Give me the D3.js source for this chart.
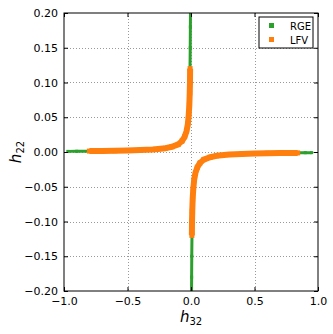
<!DOCTYPE html>
<html>
<head>
<meta charset="utf-8">
<script src="https://cdn.jsdelivr.net/npm/d3@7"></script>
<style>
  body { margin: 0; background: #fff; }
  text { font-family: "DejaVu Sans", sans-serif; }
</style>
</head>
<body>
<svg id="chart" width="333" height="334"></svg>
<script>
// ---- data: [h32, h22] ----
// RGE, branch with h32 < 0
const rgeLeft = [
  [-0.97, 0.0009], [-0.9, 0.001], [-0.8, 0.0012], [-0.7, 0.0014], [-0.6, 0.0016],
  [-0.5, 0.0019], [-0.4, 0.0024], [-0.3, 0.0032], [-0.2, 0.0048], [-0.15, 0.0066],
  [-0.1, 0.0098], [-0.07, 0.014], [-0.05, 0.02], [-0.035, 0.028], [-0.025, 0.038],
  [-0.018, 0.052], [-0.013, 0.07], [-0.01, 0.09], [-0.008, 0.115], [-0.006, 0.15],
  [-0.005, 0.18], [-0.004, 0.2]
];
// RGE, branch with h32 > 0
const rgeRight = [
  [0.004, -0.2], [0.005, -0.18], [0.006, -0.15], [0.008, -0.115], [0.01, -0.09],
  [0.013, -0.07], [0.018, -0.052], [0.025, -0.038], [0.035, -0.028], [0.05, -0.02],
  [0.07, -0.014], [0.1, -0.0098], [0.15, -0.0066], [0.2, -0.0048], [0.3, -0.0032],
  [0.4, -0.0024], [0.5, -0.0019], [0.6, -0.0016], [0.7, -0.0014], [0.8, -0.0012],
  [0.9, -0.001], [0.95, -0.0009]
];
// LFV, branch with h32 < 0
const lfvLeft = [
  [-0.8, 0.0013], [-0.7, 0.0015], [-0.6, 0.0018], [-0.5, 0.0022], [-0.4, 0.0028],
  [-0.3, 0.0037], [-0.2, 0.0055], [-0.15, 0.0075], [-0.1, 0.011], [-0.07, 0.016],
  [-0.05, 0.022], [-0.035, 0.03], [-0.025, 0.04], [-0.018, 0.053], [-0.013, 0.068],
  [-0.01, 0.085], [-0.008, 0.1], [-0.007, 0.12]
];
// LFV, branch with h32 > 0
const lfvRight = [
  [0.007, -0.12], [0.008, -0.1], [0.01, -0.085], [0.013, -0.068], [0.018, -0.053],
  [0.025, -0.04], [0.035, -0.03], [0.05, -0.022], [0.07, -0.016], [0.1, -0.011],
  [0.15, -0.0075], [0.2, -0.0055], [0.3, -0.0037], [0.4, -0.0028], [0.5, -0.0022],
  [0.6, -0.0018], [0.7, -0.0015], [0.84, -0.0013]
];
const xTicks = [-1.0, -0.5, 0.0, 0.5, 1.0];
const yTicks = [-0.20, -0.15, -0.10, -0.05, 0.00, 0.05, 0.10, 0.15, 0.20];
const seriesNames = ["RGE", "LFV"];
const seriesColors = ["#2ca02c", "#ff7f0e"];

// ---- layout ----
const margin = { left: 64, top: 13, right: 15, bottom: 43 };
const W = 333, H = 334;
const svg = d3.select("#chart");

const x = d3.scaleLinear().domain([-1, 1]).range([margin.left, W - margin.right]);
const y = d3.scaleLinear().domain([-0.2, 0.2]).range([H - margin.bottom, margin.top]);

const fmtX = d3.format(".1f");
const fmtY = d3.format(".2f");
const minus = s => s.replace("-", "\u2212");

// grid
const grid = svg.append("g").attr("stroke", "#999").attr("stroke-width", 1)
  .attr("stroke-dasharray", "1,2");
grid.selectAll("line.gx").data(xTicks.slice(1, -1)).enter().append("line")
  .attr("x1", d => Math.round(x(d)) + 0.5).attr("x2", d => Math.round(x(d)) + 0.5)
  .attr("y1", y(0.2)).attr("y2", y(-0.2));
grid.selectAll("line.gy").data(yTicks.slice(1, -1)).enter().append("line")
  .attr("class", "gy")
  .attr("y1", d => Math.round(y(d)) + 0.5).attr("y2", d => Math.round(y(d)) + 0.5)
  .attr("x1", x(-1)).attr("x2", x(1));

// data
svg.append("clipPath").attr("id", "clip").append("rect")
  .attr("x", x(-1)).attr("y", y(0.2)).attr("width", x(1) - x(-1)).attr("height", y(-0.2) - y(0.2));
const plot = svg.append("g").attr("clip-path", "url(#clip)");
const line = d3.line().x(d => x(d[0])).y(d => y(d[1]));

function drawSeries(branches, color, width, size) {
  branches.forEach(b => {
    plot.append("path").datum(b).attr("d", line)
      .attr("fill", "none").attr("stroke", color).attr("stroke-width", width)
      .attr("stroke-linejoin", "round");
    plot.selectAll(null).data(b).enter().append("rect")
      .attr("x", d => x(d[0]) - size / 2).attr("y", d => y(d[1]) - size / 2)
      .attr("width", size).attr("height", size).attr("fill", color);
  });
}
drawSeries([rgeLeft, rgeRight], seriesColors[0], 3, 3);
drawSeries([lfvLeft, lfvRight], seriesColors[1], 6, 5);

// axes (ticks inside, on all sides)
const xAxisB = d3.axisBottom(x).tickValues(xTicks).tickSizeInner(-4).tickSizeOuter(0).tickPadding(6)
  .tickFormat(d => minus(fmtX(d)));
const yAxisL = d3.axisLeft(y).tickValues(yTicks).tickSizeInner(-4).tickSizeOuter(0).tickPadding(6)
  .tickFormat(d => minus(fmtY(d)));
const gx = svg.append("g").attr("transform", `translate(0,${y(-0.2)})`).call(xAxisB);
const gy = svg.append("g").attr("transform", `translate(${x(-1)},0)`).call(yAxisL);
svg.append("g").attr("transform", `translate(0,${y(0.2)})`)
  .call(d3.axisTop(x).tickValues(xTicks).tickSizeInner(-4).tickSizeOuter(0).tickFormat(""));
svg.append("g").attr("transform", `translate(${x(1)},0)`)
  .call(d3.axisRight(y).tickValues(yTicks).tickSizeInner(-4).tickSizeOuter(0).tickFormat(""));
svg.selectAll(".domain").remove();
[gx, gy].forEach(g => g.selectAll("text").attr("font-size", 11).attr("fill", "#000")
  .attr("font-family", "DejaVu Sans"));

// frame
svg.append("rect").attr("x", x(-1)).attr("y", y(0.2))
  .attr("width", x(1) - x(-1)).attr("height", y(-0.2) - y(0.2))
  .attr("fill", "none").attr("stroke", "#000").attr("stroke-width", 1);

// axis labels
const xl = svg.append("text").attr("x", x(0)).attr("y", 322).attr("text-anchor", "middle")
  .attr("font-family", "DejaVu Serif").attr("font-size", 15);
xl.append("tspan").attr("font-style", "italic").text("h");
xl.append("tspan").attr("font-size", 10).attr("dy", 3).text("32");

const yl = svg.append("text")
  .attr("transform", `translate(21,${y(0)}) rotate(-90)`).attr("text-anchor", "middle")
  .attr("font-family", "DejaVu Serif").attr("font-size", 15);
yl.append("tspan").attr("font-style", "italic").text("h");
yl.append("tspan").attr("font-size", 10).attr("dy", 3).text("22");

// legend
const leg = svg.append("g").attr("transform", "translate(259,17)");
leg.append("rect").attr("width", 54).attr("height", 31).attr("fill", "#fff")
  .attr("stroke", "#000").attr("stroke-width", 1);
seriesNames.forEach((name, i) => {
  leg.append("rect").attr("x", 10).attr("y", 6 + i * 14).attr("width", 5).attr("height", 5)
    .attr("fill", seriesColors[i]);
  leg.append("text").attr("x", 31).attr("y", 12.5 + i * 14).attr("font-size", 10)
    .text(name);
});
</script>
</body>
</html>
